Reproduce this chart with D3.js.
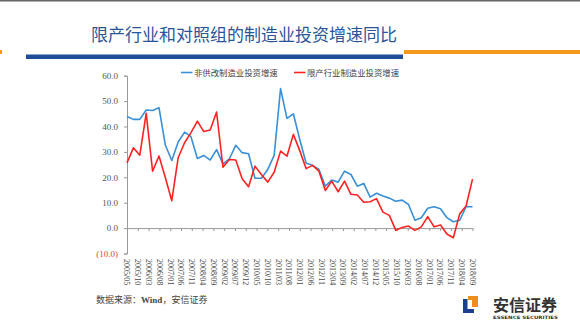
<!DOCTYPE html>
<html><head><meta charset="utf-8">
<script src="https://cdn.jsdelivr.net/npm/d3@7"></script>
<style>body{margin:0;background:#fff;} svg{display:block;}</style>
</head><body>
<svg id="c" width="580" height="328"></svg>
<script>
const title = "限产行业和对照组的制造业投资增速同比";
const seriesNames = ["非供改制造业投资增速", "限产行业制造业投资增速"];
const tickLabels = ["2005/05","2005/10","2006/03","2006/08","2007/01","2007/06","2007/11","2008/04","2008/09","2009/02","2009/07","2009/12","2010/05","2010/10","2011/03","2011/08","2012/01","2012/06","2012/11","2013/04","2013/09","2014/02","2014/07","2014/12","2015/05","2015/10","2016/03","2016/08","2017/01","2017/06","2017/11","2018/04","2018/09"];
const blueValues = [43.9,42.8,42.8,46.5,46.3,47.4,32.6,26.6,33.9,37.8,36.0,27.4,28.6,26.8,30.9,25.3,27.3,32.6,29.7,29.3,19.6,19.6,23.1,28.6,54.9,43.2,45.0,34.9,25.5,24.7,23.1,16.5,18.9,18.1,22.4,21.1,16.5,17.6,12.2,13.7,12.6,11.8,10.6,11.0,9.3,3.1,4.1,7.8,8.4,7.6,4.1,2.5,3.1,8.4,8.4];
const redValues = [25.7,31.6,28.7,45.2,22.4,28.4,19.8,10.8,27.7,33.6,37.6,42.1,38.0,38.6,45.7,24.0,27.0,26.8,19.4,16.3,24.4,21.1,18.1,22.0,30.3,28.3,36.9,30.5,23.4,24.7,22.4,14.8,18.5,14.3,18.5,13.3,13.0,10.2,10.4,11.6,6.3,5.0,-0.8,0.2,0.8,-0.9,0.5,4.5,0.5,1.2,-2.3,-3.8,5.6,8.7,19.3];
const yTicks = [60, 50, 40, 30, 20, 10, 0, -10];
const sourceText = ["数据来源：", "Wind", "，安信证券"];

const svg = d3.select("#c");
const serif = "'Liberation Serif','DejaVu Serif',serif";
const cjk = "'Noto Sans CJK SC','Noto Sans',sans-serif";

// top border
svg.append("rect").attr("x", 0).attr("y", 0).attr("width", 580).attr("height", 1.5).attr("fill", "#666");

// title
svg.append("text").attr("x", 244).attr("y", 41).attr("text-anchor", "middle")
  .attr("font-family", cjk).attr("font-size", 17).attr("fill", "#2b5597").text(title);
svg.append("rect").attr("x", 26).attr("y", 54.5).attr("width", 377).attr("height", 4.5).attr("fill", "#1f4e99");
svg.append("rect").attr("x", 404).attr("y", 50).attr("width", 176).attr("height", 4).attr("fill", "#f39a1e");
svg.append("rect").attr("x", 0).attr("y", 50).attr("width", 2).attr("height", 4).attr("fill", "#f39a1e");

// scales
const x0 = 127, x1 = 472.5;
const y = d3.scaleLinear().domain([-10, 60]).range([253.5, 75.7]);
const xLab = d3.scalePoint().domain(tickLabels).range([x0, x1]);
const xData = d3.scaleLinear().domain([0, blueValues.length - 1]).range([x0, x1]);

// y axis
const yAxis = svg.append("g").attr("transform", `translate(${x0},0)`)
  .call(d3.axisLeft(y).tickValues(yTicks).tickSize(3).tickPadding(6)
    .tickFormat(v => v < 0 ? `(${Math.abs(v).toFixed(1)})` : v.toFixed(1)));
yAxis.select(".domain").attr("stroke", "#999");
yAxis.selectAll(".tick line").attr("stroke", "#999");
yAxis.selectAll(".tick text").attr("font-family", serif).attr("font-size", 9)
  .attr("fill", d => d < 0 ? "#f04040" : "#555");

// x axis at zero
const xAxis = svg.append("g").attr("transform", `translate(0,${y(0)})`)
  .call(d3.axisBottom(xLab).tickSize(3).tickSizeOuter(0).tickFormat(""));
xAxis.select(".domain").attr("stroke", "#999");
xAxis.selectAll(".tick line").attr("stroke", "#999");

// x labels rotated
svg.append("g").selectAll("text").data(tickLabels).join("text")
  .attr("transform", d => `translate(${xLab(d)},259) rotate(90)`)
  .attr("dy", "0.33em")
  .attr("font-family", serif).attr("font-size", 8).attr("fill", "#444")
  .text(d => d);

// lines
const line = d3.line().x((d, i) => xData(i)).y(d => y(d));
svg.append("path").datum(blueValues).attr("d", line).attr("fill", "none")
  .attr("stroke", "#3a8fd6").attr("stroke-width", 1.6).attr("stroke-linejoin", "round");
svg.append("path").datum(redValues).attr("d", line).attr("fill", "none")
  .attr("stroke", "#ff2222").attr("stroke-width", 1.6).attr("stroke-linejoin", "round");

// legend
const legend = [{n: seriesNames[0], c: "#3a8fd6", x: 181}, {n: seriesNames[1], c: "#ff2222", x: 294}];
legend.forEach(l => {
  svg.append("line").attr("x1", l.x).attr("x2", l.x + 11.5).attr("y1", 72.5).attr("y2", 72.5)
    .attr("stroke", l.c).attr("stroke-width", 1.6);
  svg.append("text").attr("x", l.x + 13).attr("y", 75.5).attr("font-family", cjk)
    .attr("font-size", 8.4).attr("fill", "#444").text(l.n);
});

// source
const src = svg.append("text").attr("x", 96).attr("y", 303).attr("font-family", cjk)
  .attr("font-size", 9).attr("fill", "#444");
src.append("tspan").text(sourceText[0]);
src.append("tspan").attr("font-family", serif).attr("font-weight", "bold").text(sourceText[1]);
src.append("tspan").text(sourceText[2]);

// logo
const lg = svg.append("g");
lg.append("path").attr("d", "M468,296 L478,296 L478,307 L472,307 L472,300 L468,300 Z").attr("fill", "#f28c1a");
lg.append("path").attr("d", "M463,299 L467.5,299 L467.5,309 L474,309 L474,313 L463,313 Z").attr("fill", "#1c3f8f");
svg.append("text").attr("x", 493).attr("y", 311).attr("font-family", cjk).attr("font-weight", "bold")
  .attr("font-size", 16).attr("fill", "#333").text("安信证券");
svg.append("text").attr("x", 493).attr("y", 319).attr("font-family", "'DejaVu Sans',sans-serif").attr("font-weight", "bold")
  .attr("font-size", 4.5).attr("fill", "#333").attr("textLength", 65).attr("lengthAdjust", "spacingAndGlyphs").text("ESSENCE SECURITIES");
</script>
</body></html>
